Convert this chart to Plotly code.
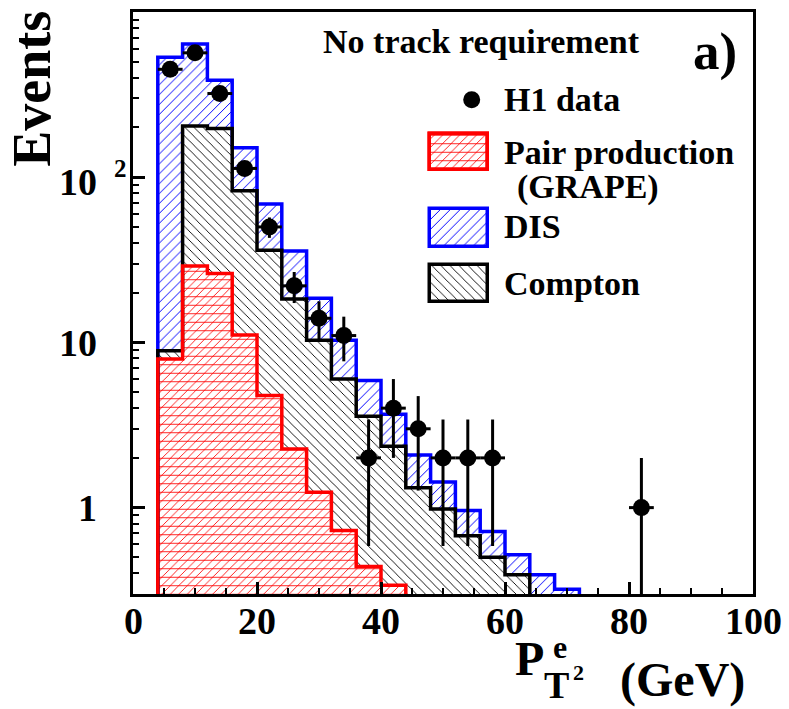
import numpy as np
import plotly.graph_objects as go

# ---------------- data ----------------
bin_start = 4.0          # GeV, lower edge of first histogram bin
bin_width = 4.0          # GeV
# outer (blue) envelope: total MC = DIS + Compton + pair production
total_mc = [533, 641, 386, 151, 68.8, 35.7, 18.5, 10.3, 5.88, 3.67, 2.08,
            1.43, 0.96, 0.717, 0.519, 0.393, 0.32]
# black envelope: Compton + pair production
compton_sum = [8.9, 204, 197, 82.8, 36.1, 18.3, 10.3, 6.0, 3.57, 2.35, 1.32,
               0.98, 0.676, 0.50, 0.393]
# red: pair production (GRAPE)
pair_grape = [7.94, 29.0, 26.1, 11.1, 4.77, 2.26, 1.24, 0.727, 0.44, 0.339]
# H1 data
data_x = [6, 10, 14, 18, 22, 26, 30, 34, 38, 42, 46, 50, 54, 58, 82]
data_n = [450, 566, 321, 113, 50, 22, 14, 11, 2, 4, 3, 2, 2, 2, 1]

x_tick_vals = [0, 20, 40, 60, 80, 100]
x_tick_text = ["0", "20", "40", "60", "80", "100"]
y_tick_vals = [1, 10, 100]
y_minor_vals = [m * 10.0 ** e for e in (-1, 0, 1, 2) for m in range(2, 10)]

# ---------------- geometry helpers ----------------
W, H = 789, 709
L, R, T, B = 133, 36, 9, 115
PW, PH = W - L - R, H - T - B
FONT = "Liberation Serif"


def px(xp):
    return (xp - L) / PW


def py(yp):
    return (H - B - yp) / PH


def centers(vals):
    return [bin_start + bin_width * (i + 0.5) for i in range(len(vals))]


def step(vals, low=0.05):
    edges = [bin_start + bin_width * i for i in range(len(vals) + 1)]
    xs = [edges[0]] + edges[:-1] + [edges[-1]]
    ys = [low] + list(vals) + [low]
    return xs, ys


def hatch_bar(vals, shape, fg, size, solidity, bg="white", xaxis="x", yaxis="y",
              x=None, base=None, width=bin_width, line=None):
    return go.Bar(
        x=x if x is not None else centers(vals), y=vals, base=base, width=width,
        xaxis=xaxis, yaxis=yaxis,
        marker=dict(color=bg, line=line or dict(width=0),
                    pattern=dict(shape=shape, fgcolor=fg, bgcolor=bg, size=size,
                                 solidity=solidity, fillmode="replace")),
        opacity=1, showlegend=False, hoverinfo="skip")


BLUE, RED, BLACK = "#0000ff", "#ff0000", "#000000"
fig = go.Figure()

# filled histograms (stacked look: each covers the one below)
fig.add_trace(hatch_bar(total_mc, "/", BLUE, 7, 0.14))
fig.add_trace(hatch_bar(compton_sum, "\\", BLACK, 6.4, 0.14))
fig.add_trace(hatch_bar(pair_grape, "/", RED, 6, 0.14))
fig.add_trace(hatch_bar(pair_grape, "-", RED, 8.5, 0.1, bg="rgba(0,0,0,0)"))

# outlines
for vals, col in ((total_mc, BLUE), (compton_sum, BLACK), (pair_grape, RED)):
    sx, sy = step(vals)
    fig.add_trace(go.Scatter(x=sx, y=sy, mode="lines", line=dict(color=col, width=3.5, shape="hv"),
                             showlegend=False, hoverinfo="skip"))

# H1 data with errors
fig.add_trace(go.Scatter(
    x=data_x, y=data_n, mode="markers",
    marker=dict(color=BLACK, size=17),
    error_y=dict(type="data", array=list(np.sqrt(data_n)), thickness=3, width=0, color=BLACK),
    error_x=dict(type="constant", value=bin_width / 2, thickness=3, width=0, color=BLACK),
    showlegend=False, hoverinfo="skip"))

# ---------------- custom legend (pixel-unit overlay axes) ----------------
sw_x, sw_w = 459.2, 58.3
legend_boxes = [  # (top, height, shape, colour, size, solidity)
    (131.7, 36.6, "/", RED, 6, 0.14),
    (207.3, 37.7, "/", BLUE, 7, 0.14),
    (263.3, 36.7, "\\", BLACK, 6.4, 0.14),
]
for top, hgt, shp, col, sz, sol in legend_boxes:
    fig.add_trace(hatch_bar([hgt], shp, col, sz, sol, xaxis="x2", yaxis="y2",
                            x=[sw_x], base=[top], width=sw_w,
                            line=dict(color=col, width=3.5)))
    if col == RED:
        fig.add_trace(hatch_bar([hgt], "-", RED, 8.5, 0.1, bg="rgba(0,0,0,0)", xaxis="x2", yaxis="y2",
                                x=[sw_x], base=[top], width=sw_w, line=dict(color=col, width=3.5)))
fig.add_trace(go.Scatter(x=[471.7], y=[97.3], xaxis="x2", yaxis="y2", mode="markers",
                         marker=dict(color=BLACK, size=17), showlegend=False, hoverinfo="skip"))

# ---------------- annotations ----------------
ann = []


def text(t, x, y, size, xanchor="center", angle=0, xref="paper", yanchor="middle"):
    ann.append(dict(text=t, x=px(x) if xref == "paper" else x, y=py(y), xref=xref, yref="paper",
                    showarrow=False, xanchor=xanchor, yanchor=yanchor, textangle=angle,
                    font=dict(family=FONT, size=size, color=BLACK, weight="bold")))


text("No track requirement", 481.2, 38.5, 34)
text("a)", 715, 48.7, 53)
text("H1 data", 502, 96.7, 34, "left")
text("Pair production", 502, 150.7, 34, "left")
text("(GRAPE)", 515, 185, 34, "left")
text("DIS", 502, 225, 34, "left")
text("Compton", 502, 281.7, 34, "left")
text("Events", 31.7, 86.5, 54, angle=-90)
# y tick labels
text("1", 99, 507.7, 38, "right")
text("10", 99, 341.7, 38, "right")
text("10", 99, 180, 38, "right")
text("2", 120, 166.5, 25)
# x tick labels (positioned on the data axis)
for v, t in zip(x_tick_vals, x_tick_text):
    text(t, v, 621.5, 38, xref="x")
# x-axis title  P_T^{e2} (GeV)
text("P", 529, 658.5, 48)
text("T", 556.7, 708.5, 38, yanchor="bottom")
text("e", 560, 647, 32)
text("2", 578.3, 672.5, 22)
text("(GeV)", 682.5, 680, 48)

axis_common = dict(showgrid=False, zeroline=False, showline=True, linecolor=BLACK, linewidth=3,
                   mirror=True, ticks="inside", ticklen=12, tickwidth=2.5, tickcolor=BLACK,
                   showticklabels=False)

fig.update_layout(
    width=W, height=H, margin=dict(l=L, r=R, t=T, b=B, pad=0),
    paper_bgcolor="white", plot_bgcolor="rgba(0,0,0,0)",
    barmode="overlay", bargap=0, showlegend=False,
    xaxis=dict(range=[0, 100], tickmode="array", tickvals=x_tick_vals,
               minor=dict(ticks="inside", ticklen=6, tickwidth=2, tickcolor=BLACK, tick0=0, dtick=5),
               **axis_common),
    yaxis=dict(type="log", range=[np.log10(0.3), 3.0], tickmode="array", tickvals=y_tick_vals,
               minor=dict(ticks="inside", ticklen=6, tickwidth=2, tickcolor=BLACK,
                          tickmode="array", tickvals=y_minor_vals),
               **axis_common),
    xaxis2=dict(range=[L, W - R], domain=[0, 1], anchor="y2", visible=False, fixedrange=True),
    yaxis2=dict(range=[H - B, T], domain=[0, 1], anchor="x2", visible=False, fixedrange=True),
    annotations=ann,
)

fig.write_html("out.html", config={"displayModeBar": False},
               post_script="document.body.style.margin='0';document.body.style.overflow='hidden';")
